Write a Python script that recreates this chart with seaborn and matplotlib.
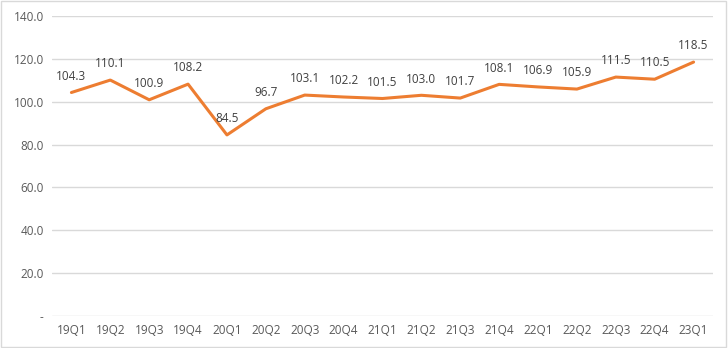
import matplotlib
matplotlib.use("Agg")
import matplotlib.pyplot as plt
import seaborn as sns
import pandas as pd
from matplotlib.patches import Rectangle

quarters = ["19Q1", "19Q2", "19Q3", "19Q4", "20Q1", "20Q2", "20Q3", "20Q4", "21Q1",
            "21Q2", "21Q3", "21Q4", "22Q1", "22Q2", "22Q3", "22Q4", "23Q1"]
values = [104.3, 110.1, 100.9, 108.2, 84.5, 96.7, 103.1, 102.2, 101.5,
          103.0, 101.7, 108.1, 106.9, 105.9, 111.5, 110.5, 118.5]
y_ticks = [0, 20, 40, 60, 80, 100, 120, 140]
y_labels = ["-", "20.0", "40.0", "60.0", "80.0", "100.0", "120.0", "140.0"]

sns.set_theme(style="white")
plt.rcParams["font.family"] = ["Open Sans", "DejaVu Sans"]

df = pd.DataFrame({"q": quarters, "v": values})
df["x"] = range(len(df))

fig = plt.figure(figsize=(7.28, 3.48), dpi=100)
ax = fig.add_axes([0.0714, 0.092, 0.908, 0.862])

sns.lineplot(data=df, x="x", y="v", ax=ax, color="#ED7D31", linewidth=2.2)

for xi, v in zip(df["x"], df["v"]):
    ax.annotate(f"{v:.1f}", (xi, v), xytext=(0, 7), textcoords="offset points",
                ha="center", va="bottom", fontsize=8.5, color="#404040")

ax.set_xlim(-0.5, len(quarters) - 0.5)
ax.set_ylim(0, 140)
ax.set_xticks(range(len(quarters)))
ax.set_xticklabels(quarters)
ax.set_yticks(y_ticks)
ax.set_yticklabels(y_labels)
ax.tick_params(axis="both", labelsize=8.5, colors="#595959", length=0, pad=6)
ax.grid(axis="y", color="#D9D9D9", linewidth=1)
for s in ax.spines.values():
    s.set_visible(False)
ax.set_xlabel("")
ax.set_ylabel("")

fig.patches.append(Rectangle((0.002, 0.003), 0.995, 0.994, transform=fig.transFigure,
                             fill=False, edgecolor="#D9D9D9", linewidth=1))

fig.savefig("out.png", dpi=100)
